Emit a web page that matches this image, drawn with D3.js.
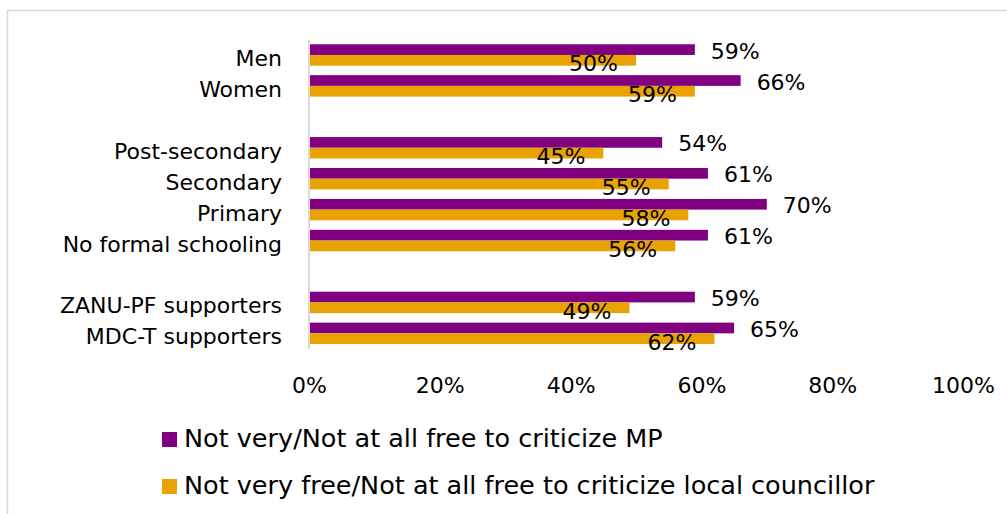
<!DOCTYPE html>
<html>
<head>
<meta charset="utf-8">
<script src="https://cdn.jsdelivr.net/npm/d3@7"></script>
<style>
  html, body { margin: 0; padding: 0; background: #fff; }
  svg { display: block; }
  text { font-family: "DejaVu Sans", sans-serif; fill: #000; }
</style>
</head>
<body>
<svg id="chart" width="1007" height="514"></svg>
<script>
// Groups of respondents, in top-to-bottom order
const categories = [
  "Men", "Women",
  "Post-secondary", "Secondary", "Primary", "No formal schooling",
  "ZANU-PF supporters", "MDC-T supporters"
];
// An empty row is left before these category indexes
const groupStarts = [2, 6];

const seriesNames = [
  "Not very/Not at all free to criticize MP",
  "Not very free/Not at all free to criticize local councillor"
];
const mpValues = [59, 66, 54, 61, 70, 61, 59, 65];
const councillorValues = [50, 59, 45, 55, 58, 56, 49, 62];
const xTicks = [0, 20, 40, 60, 80, 100];
const colors = ["#800080", "#E8A202"];

const svg = d3.select("#chart");

// chart frame
svg.append("rect")
  .attr("x", 7.5).attr("y", 10.5)
  .attr("width", 1010).attr("height", 520)
  .attr("fill", "none").attr("stroke", "#d9d9d9").attr("stroke-width", 1.5);

// row slots, including the blank separator rows
const slotOf = categories.map((c, i) => i + groupStarts.filter(g => g <= i).length);
const nSlots = categories.length + groupStarts.length;

const x = d3.scaleLinear().domain([0, 100]).range([309, 963]);
const y = d3.scaleBand()
  .domain(d3.range(nSlots))
  .range([39.5, 348.8])
  .paddingInner(0.308)
  .paddingOuter(0.154);
const ySub = d3.scaleBand().domain([0, 1]).range([0, y.bandwidth()]);

const rows = categories.map((c, i) => ({
  name: c,
  slot: slotOf[i],
  values: [mpValues[i], councillorValues[i]]
}));

// bars
const g = svg.append("g");
rows.forEach(r => {
  r.values.forEach((v, s) => {
    g.append("rect")
      .attr("x", x(0))
      .attr("y", y(r.slot) + ySub(s))
      .attr("width", x(v) - x(0))
      .attr("height", ySub.bandwidth())
      .attr("fill", colors[s]);
  });
});

// vertical category axis line
svg.append("line")
  .attr("x1", x(0)).attr("x2", x(0))
  .attr("y1", y.range()[0]).attr("y2", y.range()[1])
  .attr("stroke", "#d9d9d9").attr("stroke-width", 2);

// category labels
svg.append("g").selectAll("text")
  .data(rows).join("text")
  .attr("x", 282)
  .attr("y", d => y(d.slot) + y.bandwidth() / 2 + 11)
  .attr("text-anchor", "end")
  .style("font-size", "22px")
  .text(d => d.name);

// value labels: MP outside the bar end, councillor inside it
rows.forEach(r => {
  const v0 = r.values[0], v1 = r.values[1];
  svg.append("text")
    .attr("x", x(v0) + 16)
    .attr("y", y(r.slot) + ySub(0) + ySub.bandwidth() / 2 + 9)
    .style("font-size", "22px")
    .text(v0 + "%");
  svg.append("text")
    .attr("x", x(v1) - 18)
    .attr("y", y(r.slot) + ySub(1) + ySub.bandwidth() / 2 + 11)
    .attr("text-anchor", "end")
    .style("font-size", "22px")
    .text(v1 + "%");
});

// x axis tick labels (no line, no ticks)
const xAxis = d3.axisBottom(x).tickValues(xTicks).tickFormat(d => d + "%").tickSize(0).tickPadding(0);
const ax = svg.append("g").attr("transform", `translate(0, ${y.range()[1]})`).call(xAxis);
ax.select(".domain").remove();
ax.selectAll("text")
  .attr("y", 44).attr("dy", null)
  .style("font-size", "22px")
  .style("font-family", "'DejaVu Sans', sans-serif")
  .attr("fill", "#000");

// legend
const legend = svg.append("g");
seriesNames.forEach((name, i) => {
  const ly = 432 + i * 47;
  legend.append("rect")
    .attr("x", 162).attr("y", ly)
    .attr("width", 15).attr("height", 15)
    .attr("fill", colors[i]);
  legend.append("text")
    .attr("x", 184).attr("y", ly + 15)
    .style("font-size", "25.5px")
    .text(name);
});
</script>
</body>
</html>
